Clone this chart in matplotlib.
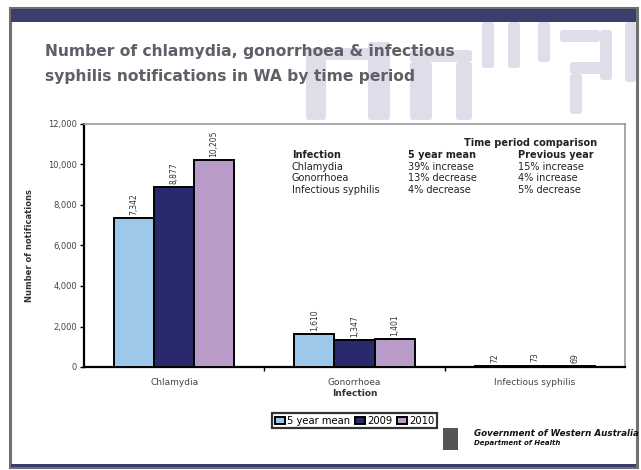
import numpy as np
import matplotlib
matplotlib.use('Agg')
import matplotlib.pyplot as plt
from matplotlib import font_manager
from matplotlib.patches import Rectangle, FancyBboxPatch

# data
categories = ['Chlamydia', 'Gonorrhoea', 'Infectious syphilis']
series_names = ['5 year mean', '2009', '2010']
mean5 = [7342, 1610, 72]
y2009 = [8877, 1347, 73]
y2010 = [10205, 1401, 69]
colors = ['#9dc8ea', '#29296e', '#b99bc9']

table_rows = [
    ['Infection', '5 year mean', 'Previous year'],
    ['Chlamydia', '39% increase', '15% increase'],
    ['Gonorrhoea', '13% decrease', '4% increase'],
    ['Infectious syphilis', '4% decrease', '5% decrease'],
]

W, H = 641, 470
fig = plt.figure(figsize=(W / 100, H / 100), dpi=100)
fig.patch.set_facecolor('white')

def px(x, y):
    # pixel (from top-left) -> figure fraction
    return x / W, 1 - y / H

# slide frame
fig.patches.append(Rectangle(px(10, 467), 627 / W, 459 / H, transform=fig.transFigure,
                             facecolor='white', edgecolor='#707070', lw=2.2, zorder=0))
fig.patches.append(Rectangle(px(11, 22), 625 / W, 13 / H, transform=fig.transFigure,
                             facecolor='#3b3d6e', edgecolor='none', zorder=1))
fig.patches.append(Rectangle(px(11, 467), 625 / W, 3 / H, transform=fig.transFigure,
                             facecolor='#3b3d6e', edgecolor='none', zorder=1))

# watermark blocks behind the title
wm = '#dedeeb'
blocks = [(306, 58, 20, 62), (368, 42, 22, 78), (410, 62, 22, 58), (456, 62, 16, 58),
          (306, 48, 84, 12), (410, 50, 62, 12), (482, 22, 12, 46), (508, 22, 12, 46),
          (538, 22, 12, 40), (560, 30, 40, 12), (600, 30, 12, 50), (625, 22, 11, 60),
          (570, 62, 40, 12), (570, 74, 12, 40)]
for bx, by, bw, bh in blocks:
    fig.patches.append(FancyBboxPatch(px(bx, by + bh), bw / W, bh / H, transform=fig.transFigure,
                                      boxstyle='round,pad=0,rounding_size=0.005',
                                      facecolor=wm, edgecolor='none', zorder=1))

# title
names = {f.name for f in font_manager.fontManager.ttflist}
if 'Liberation Sans Narrow' in names:
    tfam, tsize = 'Liberation Sans Narrow', 15.5
else:
    tfam, tsize = 'DejaVu Sans', 11.2
fig.text(45 / W, 1 - 52 / H, 'Number of chlamydia, gonorrhoea & infectious',
         fontsize=tsize, family=tfam, fontweight='bold', color='#5f5f68',
         va='center', ha='left', zorder=3)
fig.text(45 / W, 1 - 76 / H, 'syphilis notifications in WA by time period',
         fontsize=tsize, family=tfam, fontweight='bold', color='#5f5f68',
         va='center', ha='left', zorder=3)

# chart
ax = fig.add_axes([84 / W, 1 - 367 / H, (625 - 84) / W, (367 - 124) / H])
ax.set_zorder(2)
x = np.arange(len(categories))
bw = 0.222
for i, (vals, c) in enumerate(zip([mean5, y2009, y2010], colors)):
    pos = x + (i - 1) * bw
    ax.bar(pos, vals, width=bw, color=c, edgecolor='black', linewidth=1.4,
           label=series_names[i], zorder=3)
    for p, v in zip(pos, vals):
        ax.text(p, v + 150, f'{v:,}', rotation=90, ha='center', va='bottom',
                fontsize=5.5, color='#333333')

ax.set_xlim(-0.5, 2.5)
ax.set_ylim(0, 12000)
ax.set_yticks(range(0, 12001, 2000))
ax.set_yticklabels([f'{v:,}' for v in range(0, 12001, 2000)], fontsize=6, color='#444444')
ax.set_xticks(x)
ax.set_xticklabels(categories, fontsize=6.5, color='#444444')
ax.set_xticks([0.5, 1.5], minor=True)
ax.tick_params(axis='x', which='major', length=0, pad=8)
ax.tick_params(axis='x', which='minor', length=3, width=1, direction='out')
ax.tick_params(axis='y', length=3, width=1, direction='out', pad=2)
ax.set_xlabel('Infection', fontsize=6.5, fontweight='bold', color='#333333', labelpad=1)
ax.set_ylabel('Number of notifications', fontsize=6, fontweight='bold', color='#333333',
              labelpad=10)
for s in ['left', 'bottom']:
    ax.spines[s].set_linewidth(1.6)
    ax.spines[s].set_color('black')
for s in ['top', 'right']:
    ax.spines[s].set_linewidth(1.2)
    ax.spines[s].set_color('#999999')

leg = ax.legend(loc='upper center', bbox_to_anchor=(0.5, -0.17), ncol=3, fontsize=7.2,
                frameon=True, fancybox=False, edgecolor='black', handlelength=1.0,
                handleheight=0.7, handletextpad=0.2, columnspacing=0.5, borderpad=0.25)
leg.get_frame().set_linewidth(1.6)

# comparison table
fig.text(597 / W, 1 - 143 / H, 'Time period comparison', fontsize=7, fontweight='bold',
         ha='right', va='center', color='#222222')
col_x = [292, 408, 518]
for r, row in enumerate(table_rows):
    yy = 155 + r * 11.7
    for c, txt in enumerate(row):
        fig.text(col_x[c] / W, 1 - yy / H, txt, fontsize=7,
                 fontweight='bold' if r == 0 else 'normal', ha='left', va='center',
                 color='#222222')

# logo block
fig.patches.append(Rectangle(px(443, 450), 15 / W, 22 / H, transform=fig.transFigure,
                             facecolor='#555555', edgecolor='none', zorder=3))
fig.text(474 / W, 1 - 434 / H, 'Government of Western Australia', fontsize=6.3,
         fontweight='bold', style='italic', ha='left', va='center', color='#111111')
fig.text(474 / W, 1 - 443 / H, 'Department of Health', fontsize=5,
         fontweight='bold', style='italic', ha='left', va='center', color='#111111')

fig.savefig('out.png', dpi=100)
